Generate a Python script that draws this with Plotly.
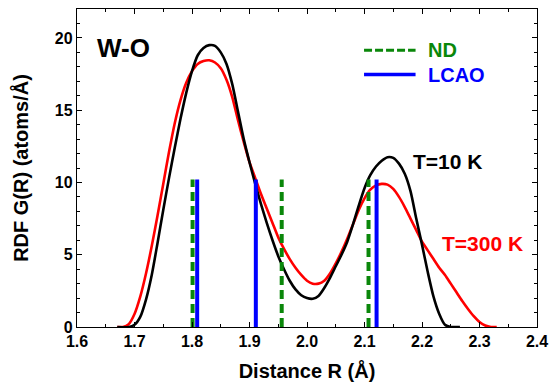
import plotly.graph_objects as go

# Distances (Å) and RDF values
r_10k = [1.67, 1.69, 1.70, 1.71, 1.72, 1.73, 1.74, 1.75, 1.76, 1.77, 1.78, 1.79, 1.80,
         1.81, 1.82, 1.83, 1.84, 1.85, 1.86, 1.87, 1.88, 1.89, 1.90, 1.91, 1.92, 1.93,
         1.94, 1.95, 1.96, 1.97, 1.98, 1.99, 2.00, 2.01, 2.02, 2.03, 2.04, 2.05, 2.06,
         2.07, 2.08, 2.09, 2.10, 2.11, 2.12, 2.13, 2.14, 2.15, 2.16, 2.17, 2.18, 2.19,
         2.20, 2.21, 2.22, 2.23, 2.24, 2.25, 2.266]
g_10k = [0.0, 0.0, 0.15, 0.7, 1.9, 3.6, 5.8, 8.1, 10.3, 12.4, 14.4, 16.2, 17.7,
         18.8, 19.3, 19.5, 19.45, 19.0, 18.2, 16.8, 14.9, 13.0, 11.4, 9.9, 8.5, 7.2,
         6.0, 4.9, 4.0, 3.2, 2.6, 2.2, 2.0, 1.95, 2.15, 2.7, 3.4, 4.2, 5.0,
         5.9, 7.1, 8.4, 9.6, 10.5, 11.1, 11.5, 11.75, 11.7, 11.3, 10.6, 9.4, 7.5,
         5.7, 3.8, 2.1, 0.9, 0.15, 0.0, 0.0]

r_300k = [1.67, 1.68, 1.69, 1.70, 1.71, 1.72, 1.73, 1.74, 1.75, 1.76, 1.77, 1.78, 1.79,
          1.80, 1.81, 1.82, 1.83, 1.84, 1.85, 1.86, 1.87, 1.88, 1.89, 1.90, 1.91, 1.92,
          1.93, 1.94, 1.95, 1.96, 1.97, 1.98, 1.99, 2.00, 2.01, 2.02, 2.03, 2.04, 2.05,
          2.06, 2.07, 2.08, 2.09, 2.10, 2.11, 2.12, 2.13, 2.14, 2.15, 2.16, 2.17, 2.18,
          2.19, 2.20, 2.21, 2.22, 2.23, 2.24, 2.25, 2.26, 2.27, 2.28, 2.29, 2.30, 2.31,
          2.32, 2.33]
g_300k = [0.0, 0.0, 0.2, 0.9, 2.1, 3.7, 5.6, 7.7, 9.9, 12.1, 14.1, 15.7, 16.9,
          17.7, 18.2, 18.4, 18.45, 18.3, 17.9, 17.1, 15.9, 14.3, 12.8, 11.4, 10.3, 9.2,
          8.2, 7.2, 6.2, 5.4, 4.7, 4.1, 3.6, 3.2, 3.0, 3.0, 3.2, 3.7, 4.4,
          5.2, 6.1, 7.1, 8.1, 8.9, 9.5, 9.8, 9.9, 9.85, 9.55, 9.0, 8.3, 7.5,
          6.7, 5.9, 5.3, 4.7, 4.1, 3.6, 3.0, 2.4, 1.8, 1.25, 0.75, 0.35, 0.1,
          0.0, 0.0]

nd_positions = [1.801, 1.956, 2.107]
lcao_positions = [1.809, 1.911, 2.121]
bar_height = 10.2

x_ticks = [1.6, 1.7, 1.8, 1.9, 2.0, 2.1, 2.2, 2.3, 2.4]
x_tick_labels = ["1.6", "1.7", "1.8", "1.9", "2.0", "2.1", "2.2", "2.3", "2.4"]
y_ticks = [0, 5, 10, 15, 20]
y_tick_labels = ["0", "5", "10", "15", "20"]

FONT = "Liberation Sans, Arial, sans-serif"
GREEN = "#0a870a"


def sticks(positions, h):
    xs, ys = [], []
    for p in positions:
        xs += [p, p, None]
        ys += [0, h, None]
    return xs, ys


fig = go.Figure()
fig.add_trace(go.Scatter(x=r_300k, y=g_300k, mode="lines",
                         line=dict(color="#ff0000", width=2.6, shape="spline", smoothing=0.7),
                         showlegend=False))
fig.add_trace(go.Scatter(x=r_10k, y=g_10k, mode="lines",
                         line=dict(color="#000000", width=2.6, shape="spline", smoothing=0.7),
                         showlegend=False))
nx, ny = sticks(nd_positions, bar_height)
fig.add_trace(go.Scatter(x=nx, y=ny, mode="lines",
                         line=dict(color=GREEN, width=4, dash="9px,5px"), showlegend=False))
lx, ly = sticks(lcao_positions, bar_height)
fig.add_trace(go.Scatter(x=lx, y=ly, mode="lines",
                         line=dict(color="#0000ff", width=4), showlegend=False))

# legend drawn manually
fig.add_shape(type="line", xref="paper", yref="paper", x0=0.624, x1=0.736, y0=0.87, y1=0.87,
              line=dict(color=GREEN, width=3, dash="8px,3px"))
fig.add_shape(type="line", xref="paper", yref="paper", x0=0.624, x1=0.736, y0=0.794, y1=0.794,
              line=dict(color="#0000ff", width=3.5))
fig.add_annotation(xref="paper", yref="paper", x=0.758, y=0.87, text="<b>ND</b>",
                   showarrow=False, xanchor="left", yanchor="middle",
                   font=dict(family=FONT, size=20, color=GREEN))
fig.add_annotation(xref="paper", yref="paper", x=0.758, y=0.794, text="<b>LCAO</b>",
                   showarrow=False, xanchor="left", yanchor="middle",
                   font=dict(family=FONT, size=20, color="#0000ff"))

fig.add_annotation(xref="paper", yref="paper", x=0.04, y=0.877, text="<b>W-O</b>",
                   showarrow=False, xanchor="left", yanchor="middle",
                   font=dict(family=FONT, size=26, color="#000000"))
fig.add_annotation(xref="paper", yref="paper", x=0.725, y=0.522, text="<b>T=10 K</b>",
                   showarrow=False, xanchor="left", yanchor="middle",
                   font=dict(family=FONT, size=21, color="#000000"))
fig.add_annotation(xref="paper", yref="paper", x=0.79, y=0.264, text="<b>T=300 K</b>",
                   showarrow=False, xanchor="left", yanchor="middle",
                   font=dict(family=FONT, size=21, color="#ff0000"))

fig.update_layout(
    width=549, height=384,
    margin=dict(l=77, r=12, t=9, b=57),
    paper_bgcolor="white", plot_bgcolor="white",
    font=dict(family=FONT, color="black"),
)
fig.update_xaxes(
    range=[1.6, 2.4], tickmode="array", tickvals=x_ticks, ticktext=x_tick_labels,
    ticks="inside", ticklen=5, tickwidth=1.2, tickcolor="black",
    minor=dict(dtick=0.05, ticks="inside", ticklen=3, tickwidth=1, tickcolor="black"),
    showline=True, linecolor="black", linewidth=1.3, mirror="ticks",
    showgrid=False, zeroline=False, automargin=False, ticklabeloverflow="allow",
    tickfont=dict(family=FONT, size=16, weight="bold"),
    title=dict(text="<b>Distance R (Å)</b>", font=dict(family=FONT, size=20), standoff=14),
)
fig.update_yaxes(
    range=[0, 22], tickmode="array", tickvals=y_ticks, ticktext=y_tick_labels,
    ticks="inside", ticklen=5, tickwidth=1.2, tickcolor="black",
    minor=dict(dtick=1, ticks="inside", ticklen=3, tickwidth=1, tickcolor="black"),
    showline=True, linecolor="black", linewidth=1.3, mirror="ticks",
    showgrid=False, zeroline=False, automargin=False, ticklabeloverflow="allow",
    tickfont=dict(family=FONT, size=16, weight="bold"),
    title=dict(text="<b>RDF G(R) (atoms/Å)</b>", font=dict(family=FONT, size=20), standoff=20),
)

fig.write_html("out.html", config={"displayModeBar": False},
               post_script="document.body.style.margin='0';document.body.style.padding='0';")
